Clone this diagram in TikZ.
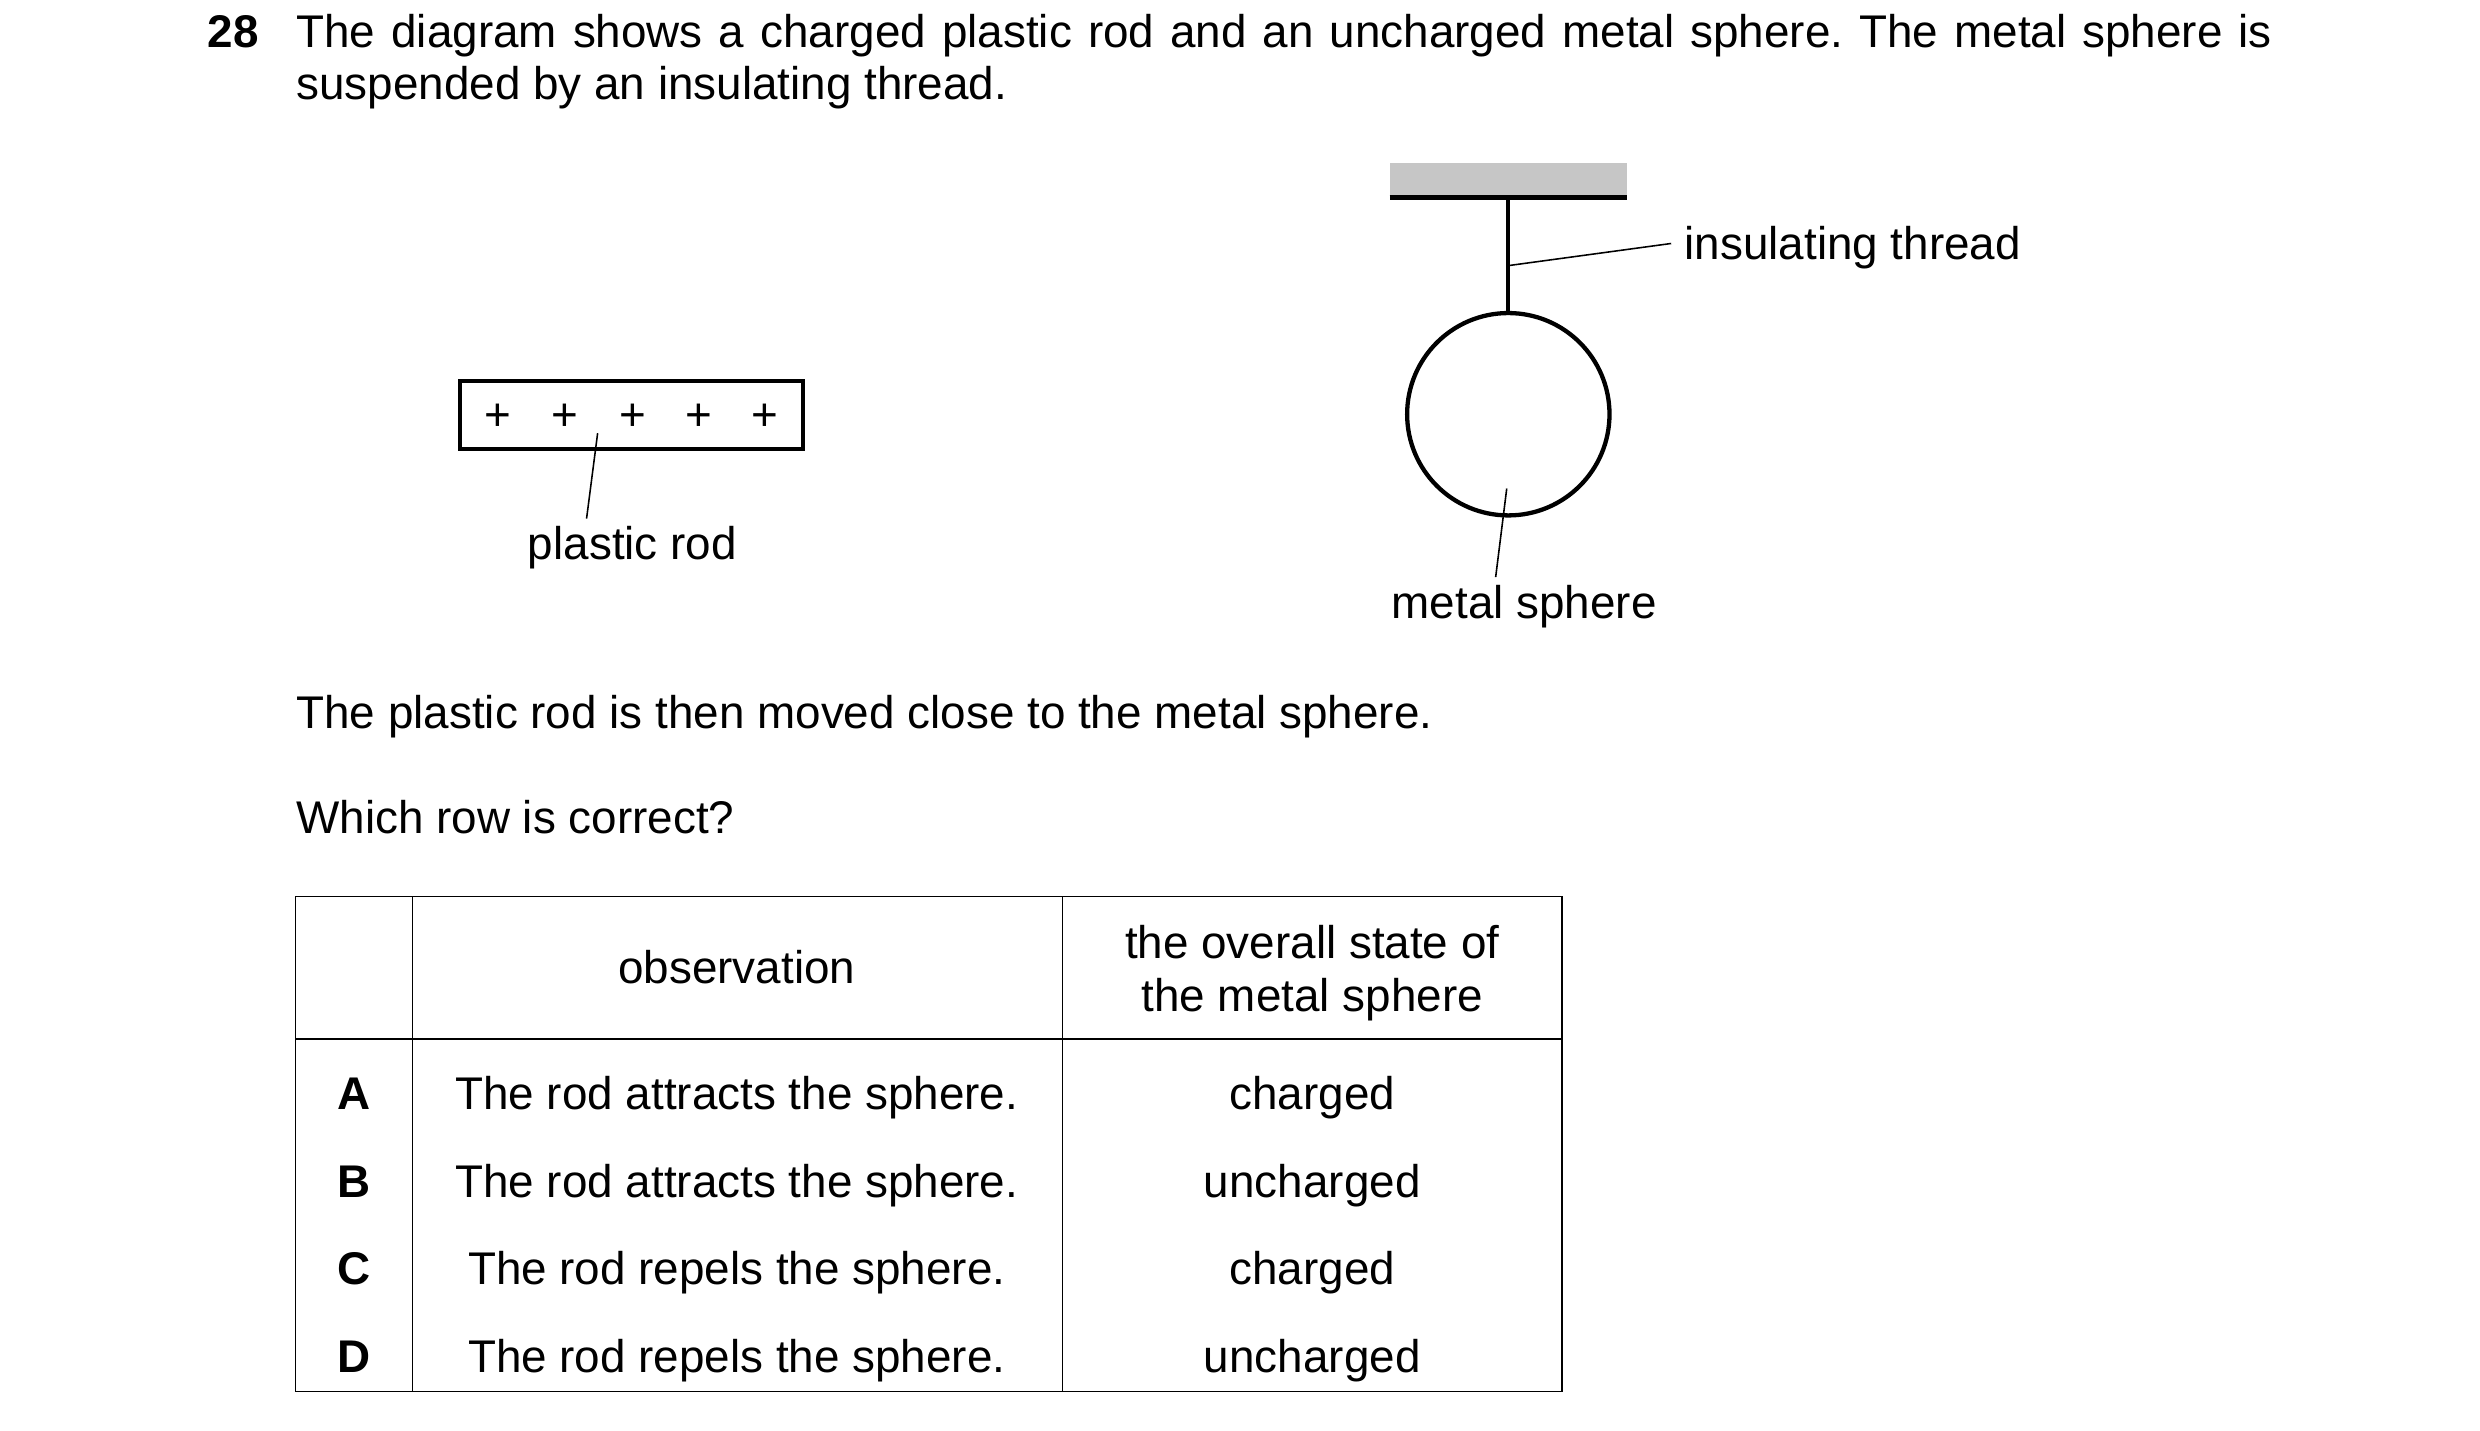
\documentclass[tikz,border=0pt]{standalone}
\usepackage{fontspec}
\setmainfont{Liberation Sans}
\usetikzlibrary{positioning}
\begin{document}
\frenchspacing
\fontsize{11.74pt}{14pt}\selectfont
\begin{tikzpicture}[x=0.01423cm, y=-0.01423cm,
  every node/.style={inner sep=0pt},
  txt/.style={anchor=base west},
  cell/.style={anchor=base}
 ]
 \useasboundingbox (0,0) rectangle (1568.6,905);
 % question text
 \node [txt, font=\bfseries] (num) at (131,30) {28};
 \node [txt] (q1) at (187,30) {\makebox[17.79cm][s]{The diagram shows a charged plastic rod and an uncharged metal sphere. The metal sphere is}};
 \node [txt] (q2) at (187,63) {suspended by an insulating thread.};

 % support and sphere
 \fill [gray!45] (879,103) rectangle (1029,125);
 \draw [line width=1.3pt] (879,125) -- (1029,125);
 \coordinate (top) at (954,125);
 \node [circle, draw, line width=1.1pt, minimum size={128*0.01423cm}] (sphere) at (954,262) {};
 \draw [line width=1.1pt] (top) -- (sphere.north);
 \coordinate (tp) at (954,168);
 \coordinate (te) at (1057,154);
 \node [anchor=base west] (thread) at (1065,164) {insulating thread};
 \draw [thin] (tp) -- (te);
 \coordinate (sp) at (953,309);
 \node [cell] (sphl) at (964,391) {metal sphere};
 \draw [thin] (sp) -- (946,365);

 % rod
 \node [draw, line width=1.1pt, minimum width={217*0.01423cm}, minimum height={43*0.01423cm}] (rod) at (399.5,262.5) {};
 \foreach \x in {315,357,400,442,484}
  \node at (\x,264) {+};
 \coordinate (rp) at (378,274);
 \node [cell] (rodl) at (400,354) {plastic rod};
 \draw [thin] (rp) -- (371,328);

 \node [txt] (q3) at (187,461) {The plastic rod is then moved close to the metal sphere.};
 \node [txt] (q4) at (187,527) {Which row is correct?};

 % table
 \draw [thin] (187,567) rectangle (988,880);
 \draw [thin] (187,657) -- (988,657);
 \draw [thin] (261,567) -- (261,880);
 \draw [thin] (672,567) -- (672,880);
 \node [cell] at (466,622) {observation};
 \node [cell] at (830,606) {the overall state of};
 \node [cell] at (830,640) {the metal sphere};
 \foreach \l/\o/\s [count=\i from 0] in {A/attracts/charged, B/attracts/uncharged, C/repels/charged, D/repels/uncharged} {
  \node [cell, font=\bfseries] at (224,{702+55.3*\i}) {\l};
  \node [cell] at (466,{702+55.3*\i}) {The rod \o\ the sphere.};
  \node [cell] at (830,{702+55.3*\i}) {\s};
 }
\end{tikzpicture}
\end{document}
